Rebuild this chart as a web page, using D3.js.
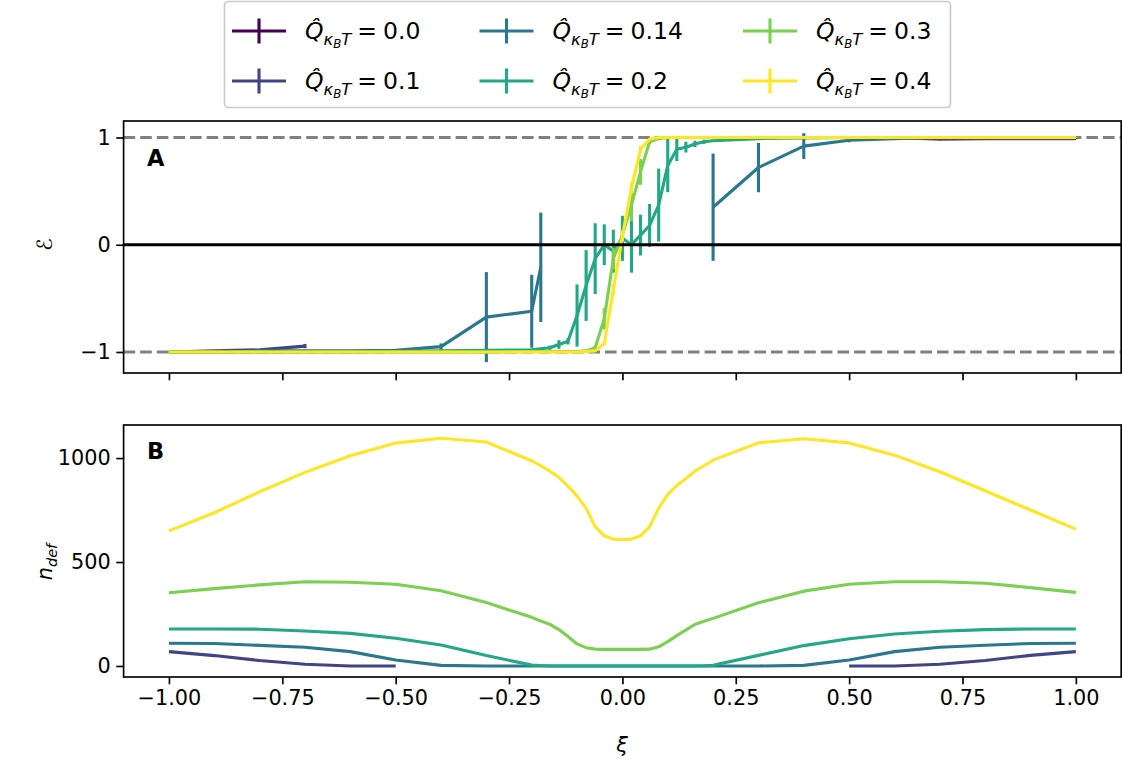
<!DOCTYPE html>
<html>
<head>
<meta charset="utf-8">
<script src="https://cdn.jsdelivr.net/npm/d3@7"></script>
<style>
  body { margin: 0; background: #fff; }
  svg { font-family: "DejaVu Sans", sans-serif; }
</style>
</head>
<body>
<div id="chart"></div>
<script>
// xi grid (coarse outside, fine steps of 0.02 around 0)
const xs = [-1, -0.9, -0.8, -0.7, -0.6, -0.5, -0.4, -0.3, -0.2,
  -0.18, -0.16, -0.14, -0.12, -0.1, -0.08, -0.06, -0.04, -0.02, 0,
  0.02, 0.04, 0.06, 0.08, 0.1, 0.12, 0.14, 0.16, 0.18,
  0.2, 0.3, 0.4, 0.5, 0.6, 0.7, 0.8, 0.9, 1.0];

const qValues = ["0.0", "0.1", "0.14", "0.2", "0.3", "0.4"];

// panel A: order parameter and its error
const eps00 = [];
const err00 = [];
const eps01 = [-1.0, -0.99, -0.98, -0.945, null, null,
  null, null, null, null, null, null, null, null, null, null, null, null, null,
  null, null, null, null, null, null, null, null, null, null, null, null,
  1.0, 1.0, 0.985, 0.99, 0.99, 0.99];
const err01 = [0.005, 0.005, 0.005, 0.02, null, null,
  null, null, null, null, null, null, null, null, null, null, null, null, null,
  null, null, null, null, null, null, null, null, null, null, null, null,
  0.005, 0.005, 0.01, 0.005, 0.005, 0.005];
const eps014 = [-1.0, -1.0, -0.99, -0.99, -0.99, -0.985, -0.95, -0.675, -0.62, -0.21,
  null, null, null, null, null, null, null, null, null,
  null, null, null, null, null, null, null, null, null,
  0.35, 0.72, 0.92, 0.975, 0.99, 1.0, 1.0, 1.0, 1.0];
const err014 = [0.005, 0.005, 0.005, 0.005, 0.005, 0.01, 0.03, 0.42, 0.34, 0.51,
  null, null, null, null, null, null, null, null, null,
  null, null, null, null, null, null, null, null, null,
  0.5, 0.23, 0.12, 0.02, 0.01, 0.005, 0.005, 0.005, 0.005];
const eps02 = [-1.0, -1.0, -1.0, -1.0, -1.0, -0.995, -0.99, -0.985, -0.98,
  -0.97, -0.96, -0.93, -0.90, -0.66, -0.38, -0.13, 0.0, -0.06, 0.06,
  0.0, 0.09, 0.18, 0.37, 0.74, 0.89, 0.91, 0.94, 0.96,
  0.97, 0.99, 0.995, 1.0, 1.0, 1.0, 1.0, 1.0, 1.0];
const err02 = [0.005, 0.005, 0.005, 0.005, 0.005, 0.005, 0.01, 0.01, 0.01,
  0.01, 0.02, 0.04, 0.03, 0.29, 0.33, 0.33, 0.19, 0.2, 0.21,
  0.26, 0.19, 0.2, 0.34, 0.25, 0.11, 0.05, 0.03, 0.02,
  0.01, 0.005, 0.005, 0.005, 0.005, 0.005, 0.005, 0.005, 0.005];
const eps03 = [-1.0, -1.0, -1.0, -1.0, -1.0, -1.0, -1.0, -1.0, -0.995,
  -0.995, -0.995, -0.995, -0.995, -0.995, -0.99, -0.96, -0.69, -0.13, 0.09,
  0.37, 0.68, 0.96, 0.99, 1.0, 1.0, 1.0, 1.0, 1.0,
  1.0, 1.0, 1.0, 1.0, 1.0, 1.0, 1.0, 1.0, 1.0];
const err03 = [0.003, 0.003, 0.003, 0.003, 0.003, 0.003, 0.003, 0.003, 0.003,
  0.003, 0.003, 0.003, 0.003, 0.005, 0.01, 0.02, 0.1, 0.1, 0.05,
  0.15, 0.12, 0.02, 0.01, 0.003, 0.003, 0.003, 0.003, 0.003,
  0.003, 0.003, 0.003, 0.003, 0.003, 0.003, 0.003, 0.003, 0.003];
const eps04 = [-1.0, -1.0, -1.0, -1.0, -1.0, -1.0, -1.0, -1.0, -1.0,
  -1.0, -1.0, -1.0, -1.0, -1.0, -0.995, -0.99, -0.92, -0.42, 0.08,
  0.53, 0.89, 0.985, 1.0, 1.0, 1.0, 1.0, 1.0, 1.0,
  1.0, 1.0, 1.0, 1.0, 1.0, 1.0, 1.0, 1.0, 1.0];
const err04 = [0.003, 0.003, 0.003, 0.003, 0.003, 0.003, 0.003, 0.003, 0.003,
  0.003, 0.003, 0.003, 0.003, 0.003, 0.003, 0.005, 0.02, 0.05, 0.05,
  0.05, 0.03, 0.01, 0.003, 0.003, 0.003, 0.003, 0.003, 0.003,
  0.003, 0.003, 0.003, 0.003, 0.003, 0.003, 0.003, 0.003, 0.003];

// panel B: number of defects
const ndef00 = [];
const ndef01 = [69, 50, 26, 8, 0, 0,
  null, null, null, null, null, null, null, null, null, null, null, null, null,
  null, null, null, null, null, null, null, null, null, null, null, null,
  0, 0, 8, 26, 51, 69];
const ndef014 = [109, 108, 99, 90, 69, 29, 3, 0, 0,
  0, 0, 0, 0, 0, 0, 0, 0, 0, 0,
  0, 0, 0, 0, 0, 0, 0, 0, 0,
  0, 0, 3, 29, 69, 90, 100, 108, 109];
const ndef02 = [178, 178, 177, 168, 157, 133, 101, 50, 5,
  2, 0, 0, 0, 0, 0, 0, 0, 0, 0,
  0, 0, 0, 0, 0, 0, 0, 0, 1,
  3, 51, 98, 131, 154, 167, 175, 178, 178];
const ndef03 = [352, 372, 390, 405, 403, 393, 362, 305, 234,
  216, 200, 175, 142, 106, 88, 81, 80, 80, 80,
  80, 80, 81, 92, 117, 146, 173, 200, 215,
  229, 304, 360, 393, 405, 405, 398, 377, 354];
const ndef04 = [650, 737, 838, 931, 1011, 1072, 1095, 1077, 987,
  963, 937, 907, 865, 817, 758, 670, 626, 610, 608,
  610, 626, 670, 758, 825, 868, 902, 937, 963,
  990, 1073, 1093, 1073, 1014, 934, 843, 750, 658];

const epsSeries = [eps00, eps01, eps014, eps02, eps03, eps04];
const errSeries = [err00, err01, err014, err02, err03, err04];
const ndefSeries = [ndef00, ndef01, ndef014, ndef02, ndef03, ndef04];

const xTicks = [-1, -0.75, -0.5, -0.25, 0, 0.25, 0.5, 0.75, 1];
const yTicksA = [-1, 0, 1];
const yTicksB = [0, 500, 1000];

// dimenzije
const W = 1122, H = 761;
const fs = 20.8;
const lw = 3.1;

const svg = d3.select("#chart").append("svg")
  .attr("width", W).attr("height", H);

const x = d3.scaleLinear().domain([-1.1, 1.1]).range([123.6, 1121.2]);
const yA = d3.scaleLinear().domain([-1.196, 1.154]).range([373, 121]);
const yB = d3.scaleLinear().domain([-53, 1159]).range([677, 425]);

const color = d3.scaleOrdinal()
  .domain(qValues)
  .range(qValues.map((q, i) => d3.interpolateViridis(i / 5)));

const minus = s => s.replace("-", "\u2212");

function drawAxes(y, ticksY, showX) {
  const g = svg.append("g");
  const ax = g.append("g")
    .attr("transform", `translate(0,${y.range()[0]})`)
    .call(d3.axisBottom(x).tickValues(xTicks).tickSize(7.3).tickPadding(5.5)
      .tickFormat(d => showX ? minus(d3.format(".2f")(d)) : ""));
  const ay = g.append("g")
    .attr("transform", `translate(${x.range()[0]},0)`)
    .call(d3.axisLeft(y).tickValues(ticksY).tickSize(7.3).tickPadding(5.5)
      .tickFormat(d => minus(String(d))));
  [ax, ay].forEach(a => {
    a.select(".domain").remove();
    a.selectAll("line").attr("stroke", "#000").attr("stroke-width", 1.67);
    a.selectAll("text").attr("font-size", fs).attr("fill", "#000")
      .attr("font-family", "DejaVu Sans");
  });
  return g;
}

function frame(y) {
  svg.append("rect")
    .attr("x", x.range()[0]).attr("y", y.range()[1])
    .attr("width", x.range()[1] - x.range()[0])
    .attr("height", y.range()[0] - y.range()[1])
    .attr("fill", "none").attr("stroke", "#000").attr("stroke-width", 1.67);
}

// Panel A
const gA = svg.append("g");

// dashed guides at +-1 sit under the curves
[-1, 1].forEach(v => {
  gA.append("line")
    .attr("x1", x.range()[0]).attr("x2", x.range()[1])
    .attr("y1", yA(v)).attr("y2", yA(v))
    .attr("stroke", "#808080").attr("stroke-width", lw)
    .attr("stroke-dasharray", "11.6,5");
});

const lineA = d3.line()
  .defined(d => d.v != null)
  .x(d => x(d.x)).y(d => yA(d.v));

qValues.forEach((q, i) => {
  const pts = xs.map((xv, j) => ({ x: xv, v: epsSeries[i][j] ?? null, e: errSeries[i][j] ?? null }));
  gA.append("path")
    .datum(pts)
    .attr("d", lineA)
    .attr("fill", "none")
    .attr("stroke", color(q))
    .attr("stroke-width", lw)
    .attr("stroke-linejoin", "round");
  gA.selectAll(null)
    .data(pts.filter(d => d.v != null && d.e != null))
    .enter().append("line")
    .attr("x1", d => x(d.x)).attr("x2", d => x(d.x))
    .attr("y1", d => yA(d.v - d.e)).attr("y2", d => yA(d.v + d.e))
    .attr("stroke", color(q))
    .attr("stroke-width", lw);
});

gA.append("line")
  .attr("x1", x.range()[0]).attr("x2", x.range()[1])
  .attr("y1", yA(0)).attr("y2", yA(0))
  .attr("stroke", "#000").attr("stroke-width", lw);

drawAxes(yA, yTicksA, false);
frame(yA);

// Panel B
const gB = svg.append("g");
const lineB = d3.line()
  .defined(d => d.v != null)
  .x(d => x(d.x)).y(d => yB(d.v));

qValues.forEach((q, i) => {
  const pts = xs.map((xv, j) => ({ x: xv, v: ndefSeries[i][j] ?? null }));
  gB.append("path")
    .datum(pts)
    .attr("d", lineB)
    .attr("fill", "none")
    .attr("stroke", color(q))
    .attr("stroke-width", lw)
    .attr("stroke-linejoin", "round");
});

drawAxes(yB, yTicksB, true);
frame(yB);

// panel letters
svg.append("text").attr("x", 147).attr("y", 165.5)
  .attr("font-size", 22.5).attr("font-weight", "bold").text("A");
svg.append("text").attr("x", 147).attr("y", 458.5)
  .attr("font-size", 22.5).attr("font-weight", "bold").text("B");

// axis labels
svg.append("text")
  .attr("x", 622).attr("y", 752)
  .attr("text-anchor", "middle")
  .attr("font-size", fs).attr("font-style", "italic")
  .text("\u03BE");

svg.append("text")
  .attr("transform", `translate(52,${yA(0)}) rotate(-90)`)
  .attr("text-anchor", "middle")
  .attr("font-size", fs)
  .text("\u2130");

const nLab = svg.append("text")
  .attr("transform", `translate(52,${yB(500)}) rotate(-90)`)
  .attr("text-anchor", "middle")
  .attr("font-size", fs).attr("font-style", "italic");
nLab.append("tspan").text("n");
nLab.append("tspan").attr("font-size", fs * 0.7).attr("dy", 5).text("def");

// Legend
const lfs = 23.5;
const legend = svg.append("g");
legend.append("rect")
  .attr("x", 224.5).attr("y", 1.5).attr("width", 726).attr("height", 106)
  .attr("rx", 4).attr("fill", "#fff").attr("fill-opacity", 0.8)
  .attr("stroke", "#cccccc").attr("stroke-width", 1.67);

const colX = [232, 479.5, 743];
const rowY = [31, 81];

qValues.forEach((q, i) => {
  const cx = colX[Math.floor(i / 2)];
  const cy = rowY[i % 2];
  const hl = 54;
  const g = legend.append("g");
  g.append("line")
    .attr("x1", cx).attr("x2", cx + hl).attr("y1", cy).attr("y2", cy)
    .attr("stroke", color(q)).attr("stroke-width", lw);
  g.append("line")
    .attr("x1", cx + hl / 2).attr("x2", cx + hl / 2)
    .attr("y1", cy - 12.5).attr("y2", cy + 12.5)
    .attr("stroke", color(q)).attr("stroke-width", lw);

  const t = g.append("text")
    .attr("x", cx + 73).attr("y", cy + 8)
    .attr("font-size", lfs);
  t.append("tspan").attr("font-style", "italic").text("Q\u0302");
  t.append("tspan").attr("font-style", "italic").attr("font-size", lfs * 0.7)
    .attr("dy", 5.5).text("\u03BA");
  t.append("tspan").attr("font-style", "italic").attr("font-size", lfs * 0.5)
    .attr("dy", 3.5).text("B");
  t.append("tspan").attr("font-style", "italic").attr("font-size", lfs * 0.7)
    .attr("dy", -3.5).text("T");
  t.append("tspan").attr("dy", -5.5).attr("dx", 6).text("=");
  t.append("tspan").attr("dx", 6).text(q);
});
</script>
</body>
</html>
